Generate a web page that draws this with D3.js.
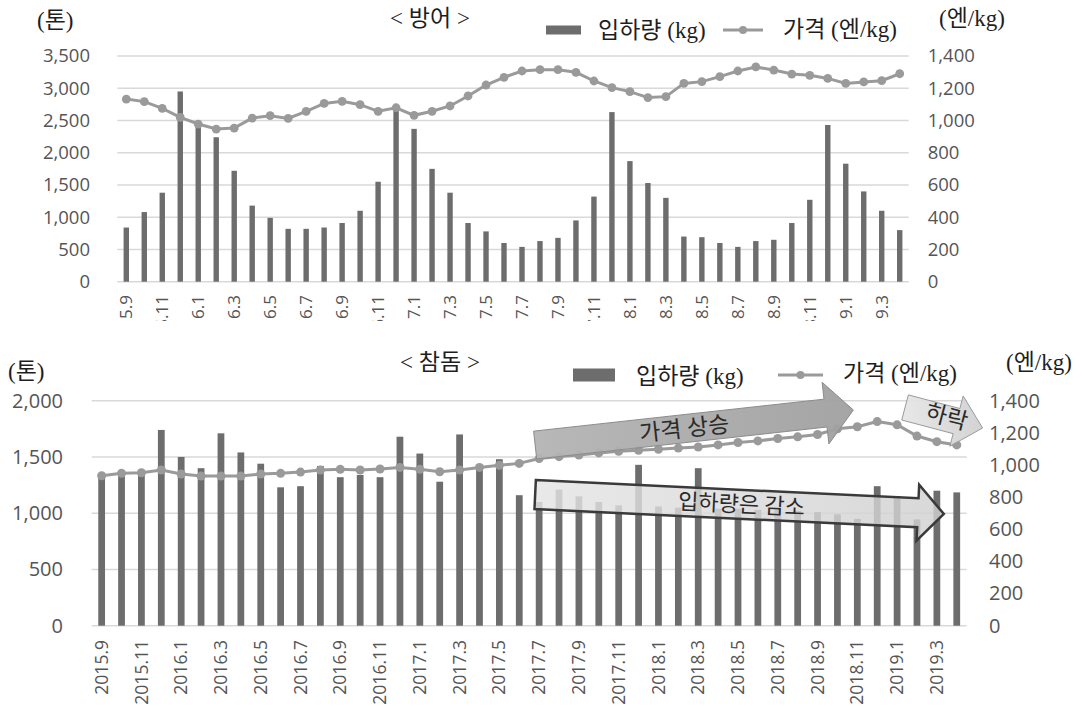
<!DOCTYPE html>
<html>
<head>
<meta charset="utf-8">
<script src="https://cdn.jsdelivr.net/npm/d3@7"></script>
<style>
  body { margin: 0; background: #fff; }
</style>
</head>
<body>
<div id="chart"></div>
<script>
// Monthly categories, 2015.9 ~ 2019.4
const months = [
  '2015.9', '2015.10', '2015.11', '2015.12',
  '2016.1', '2016.2', '2016.3', '2016.4', '2016.5', '2016.6', '2016.7', '2016.8', '2016.9', '2016.10', '2016.11', '2016.12',
  '2017.1', '2017.2', '2017.3', '2017.4', '2017.5', '2017.6', '2017.7', '2017.8', '2017.9', '2017.10', '2017.11', '2017.12',
  '2018.1', '2018.2', '2018.3', '2018.4', '2018.5', '2018.6', '2018.7', '2018.8', '2018.9', '2018.10', '2018.11', '2018.12',
  '2019.1', '2019.2', '2019.3', '2019.4'
];
// every other month gets a label
const tickMonths = months.filter((m, i) => i % 2 === 0);

// < 방어 > landing (톤) and price (엔/kg)
const banLanding = [840, 1080, 1380, 2950, 2470, 2240, 1720, 1180, 990, 820, 820, 840, 910, 1100, 1550, 2700,
  2370, 1750, 1380, 910, 780, 600, 540, 630, 680, 950, 1320, 2630, 1870, 1530, 1300, 700, 690, 600, 540, 630,
  650, 910, 1270, 2430, 1830, 1400, 1100, 800];
const banPrice = [1133, 1117, 1075, 1019, 978, 947, 953, 1015, 1030, 1013, 1057, 1106, 1119, 1098, 1057, 1079,
  1032, 1057, 1090, 1152, 1220, 1268, 1307, 1315, 1315, 1299, 1245, 1204, 1179, 1142, 1148, 1230, 1241, 1272,
  1307, 1332, 1313, 1288, 1280, 1261, 1230, 1239, 1247, 1290];

// < 참돔 > landing (톤) and price (엔/kg)
const chamLanding = [1330, 1380, 1360, 1740, 1500, 1400, 1710, 1540, 1440, 1230, 1240, 1420, 1320, 1340, 1320, 1680,
  1530, 1280, 1700, 1400, 1480, 1160, 1100, 1210, 1150, 1100, 1070, 1430, 1060, 1050, 1400, 1040, 1040, 1030,
  1030, 1020, 1010, 990, 950, 1240, 1150, 945, 1200, 1185];
const chamPrice = [933, 948, 952, 969, 944, 931, 931, 931, 944, 948, 956, 969, 973, 969, 975, 985, 973, 958, 969,
  985, 998, 1010, 1040, 1052, 1062, 1075, 1085, 1092, 1098, 1105, 1112, 1125, 1140, 1150, 1165, 1175, 1190, 1225,
  1238, 1270, 1250, 1180, 1145, 1125];

// axis ticks
const banTicks = [0, 500, 1000, 1500, 2000, 2500, 3000, 3500];
const chamTicks = [0, 500, 1000, 1500, 2000];
const priceTicks = [0, 200, 400, 600, 800, 1000, 1200, 1400];

// annotation arrows on the 참돔 panel: [month index, price] for tail and tip
const chamArrows = [
  { label: '가격 상승', tail: [21.8, 1124], tip: [37.8, 1342], hw: 14, hh: 31, hl: 28, fill: 'gradUp', stroke: '#8c8c8c', sw: 1, op: 0.95, fs: 23, shift: 4 },
  { label: '입하량은 감소', tail: [21.8, 816], tip: [42.35, 695], hw: 14.5, hh: 28, hl: 26, fill: 'gradDown', stroke: '#3a3a3a', sw: 2.5, op: 0.82, fs: 22, shift: 15 },
  { label: '하락', tail: [40.4, 1358], tip: [44.3, 1230], hw: 13, hh: 26, hl: 27, fill: 'gradFall', stroke: '#9a9a9a', sw: 1, op: 0.92, fs: 23, shift: 0 }
];

const korFont = '"Liberation Serif", "Noto Sans CJK KR", serif';
const numFont = '"Open Sans", sans-serif';

const svg = d3.select('#chart')
  .append('svg')
  .attr('width', 1089)
  .attr('height', 711);

const defs = svg.append('defs');
function grad(id, c1, c2) {
  const g = defs.append('linearGradient').attr('id', id).attr('x1', '0%').attr('x2', '100%');
  g.append('stop').attr('offset', '0%').attr('stop-color', c1);
  g.append('stop').attr('offset', '100%').attr('stop-color', c2);
}
grad('gradUp', '#b4b4b4', '#a0a0a0');
grad('gradDown', '#e4e4e4', '#d0d0d0');
grad('gradFall', '#e6e6e6', '#cfcfcf');

// Drawing one bar + line panel
function panel(o) {
  const g = svg.append('g');

  const x = d3.scaleBand()
    .domain(months)
    .range([o.x0, o.x1])
    .paddingInner(o.pad)
    .paddingOuter(o.pad / 2);
  const yL = d3.scaleLinear().domain([0, o.leftMax]).range([o.yBot, o.yTop]);
  const yR = d3.scaleLinear().domain([0, 1400]).range([o.yBot, o.yTop]);
  const cx = m => x(m) + x.bandwidth() / 2;

  // gridlines
  g.selectAll('line.grid')
    .data(o.leftTicks)
    .join('line')
    .attr('x1', o.x0).attr('x2', o.x1)
    .attr('y1', d => yL(d)).attr('y2', d => yL(d))
    .attr('stroke', '#d9d9d9')
    .attr('stroke-width', 1.5);

  // left axis
  const axL = g.append('g')
    .attr('transform', `translate(${o.leftLabelX},0)`)
    .call(d3.axisLeft(yL).tickValues(o.leftTicks).tickSize(0).tickPadding(0).tickFormat(d3.format(',')));
  axL.select('.domain').remove();
  axL.selectAll('text').attr('font-family', numFont).attr('font-size', o.fs).attr('fill', '#555');

  // right axis
  const axR = g.append('g')
    .attr('transform', `translate(${o.rightLabelX},0)`)
    .call(d3.axisRight(yR).tickValues(priceTicks).tickSize(0).tickPadding(0).tickFormat(d3.format(',')));
  axR.select('.domain').remove();
  axR.selectAll('text').attr('font-family', numFont).attr('font-size', o.fs).attr('fill', '#555');

  // bars
  g.selectAll('rect.bar')
    .data(o.landing)
    .join('rect')
    .attr('x', (d, i) => x(months[i]))
    .attr('width', x.bandwidth())
    .attr('y', d => yL(d))
    .attr('height', d => o.yBot - yL(d))
    .attr('fill', '#6d6d6d');

  // price line with markers
  const line = d3.line()
    .x((d, i) => cx(months[i]))
    .y(d => yR(d));
  g.append('path')
    .attr('d', line(o.price))
    .attr('fill', 'none')
    .attr('stroke', '#9a9a9a')
    .attr('stroke-width', 3);
  g.selectAll('circle.pt')
    .data(o.price)
    .join('circle')
    .attr('cx', (d, i) => cx(months[i]))
    .attr('cy', d => yR(d))
    .attr('r', o.r)
    .attr('fill', '#9a9a9a');

  // x labels (rotated), optionally clipped
  const wrap = g.append('g');
  if (o.clip) {
    defs.append('clipPath').attr('id', o.clip.id)
      .append('rect')
      .attr('x', 0).attr('y', o.clip.y0)
      .attr('width', 1089).attr('height', o.clip.y1 - o.clip.y0);
    wrap.attr('clip-path', `url(#${o.clip.id})`);
  }
  const axX = wrap.append('g')
    .attr('transform', `translate(0,${o.labelTop})`)
    .call(d3.axisBottom(x).tickValues(tickMonths).tickSize(0).tickPadding(0));
  axX.select('.domain').remove();
  axX.selectAll('text')
    .attr('y', 0)
    .attr('dy', '0.35em')
    .attr('transform', 'rotate(-90)')
    .attr('text-anchor', 'end')
    .attr('font-family', numFont)
    .attr('font-size', o.xfs)
    .attr('fill', '#555');

  // titles, units, legend
  const txt = (t, tx, ty, size, anchor) => g.append('text')
    .attr('x', tx).attr('y', ty)
    .attr('dy', '0.35em')
    .attr('text-anchor', anchor || 'start')
    .attr('font-family', korFont)
    .attr('font-size', size)
    .attr('fill', '#1e1e1e')
    .text(t);
  txt(o.title, o.titleX, o.titleY, 23, 'middle');
  txt('(톤)', o.tonX, o.tonY, 23);
  txt('(엔/kg)', o.yenX, o.yenY, 23);

  const lg = o.legend;
  g.append('rect')
    .attr('x', lg.sx).attr('y', lg.sy - lg.sh / 2)
    .attr('width', lg.sw).attr('height', lg.sh)
    .attr('fill', '#6d6d6d');
  txt('입하량 (kg)', lg.t1x, lg.ty, 23);
  g.append('line')
    .attr('x1', lg.lx).attr('x2', lg.lx + lg.lw)
    .attr('y1', lg.ly).attr('y2', lg.ly)
    .attr('stroke', '#9a9a9a').attr('stroke-width', 3);
  g.append('circle')
    .attr('cx', lg.lx + lg.lw / 2).attr('cy', lg.ly)
    .attr('r', 4).attr('fill', '#9a9a9a');
  txt('가격 (엔/kg)', lg.t2x, lg.ty2, 23);

  return { x, yR, g, step: x.step(), x0: o.x0 };
}

const topPanel = panel({
  x0: 117.3, x1: 908.7, yTop: 56, yBot: 281.7, pad: 0.7,
  leftMax: 3500, leftTicks: banTicks, landing: banLanding, price: banPrice,
  leftLabelX: 90, rightLabelX: 927.7, fs: 18.5, xfs: 17, r: 4.4,
  labelTop: 295, clip: { id: 'clipTop', y0: 286, y1: 321 },
  title: '< 방어 >', titleX: 430, titleY: 18, tonX: 37, tonY: 20, yenX: 939, yenY: 18,
  legend: { sx: 546, sy: 30, sw: 35, sh: 9, t1x: 598, ty: 30, lx: 723, lw: 40, ly: 30, t2x: 783, ty2: 29 }
});

const bottomPanel = panel({
  x0: 91.7, x1: 966.7, yTop: 400.7, yBot: 625.7, pad: 0.66,
  leftMax: 2000, leftTicks: chamTicks, landing: chamLanding, price: chamPrice,
  leftLabelX: 63, rightLabelX: 989, fs: 20, xfs: 17.5, r: 4.5,
  labelTop: 640, clip: null,
  title: '< 참돔 >', titleX: 440, titleY: 362, tonX: 8, tonY: 371, yenX: 1006, yenY: 362,
  legend: { sx: 573, sy: 375, sw: 42, sh: 13, t1x: 636, ty: 376, lx: 778, lw: 45, ly: 375, t2x: 843, ty2: 373 }
});

// Drawing the annotation arrows
const xAt = idx => bottomPanel.x0 + (idx + 0.5) * bottomPanel.step;
chamArrows.forEach(a => {
  const p0 = [xAt(a.tail[0]), bottomPanel.yR(a.tail[1])];
  const p1 = [xAt(a.tip[0]), bottomPanel.yR(a.tip[1])];
  const dx = p1[0] - p0[0], dy = p1[1] - p0[1];
  const len = Math.hypot(dx, dy);
  const u = [dx / len, dy / len], n = [-u[1], u[0]];
  const neck = [p1[0] - u[0] * a.hl, p1[1] - u[1] * a.hl];
  const pt = (b, s) => [b[0] + n[0] * s, b[1] + n[1] * s];
  const pts = [pt(p0, -a.hw), pt(neck, -a.hw), pt(neck, -a.hh), p1, pt(neck, a.hh), pt(neck, a.hw), pt(p0, a.hw)];
  bottomPanel.g.append('path')
    .attr('d', d3.line()(pts) + 'Z')
    .attr('fill', `url(#${a.fill})`)
    .attr('fill-opacity', a.op)
    .attr('stroke', a.stroke)
    .attr('stroke-width', a.sw)
    .attr('stroke-linejoin', 'miter');
  const ang = Math.atan2(dy, dx) * 180 / Math.PI;
  const mid = [(p0[0] + neck[0]) / 2, (p0[1] + neck[1]) / 2];
  let tcx, tcy;
  if (a.label === '하락') {
    tcx = (p0[0] + p1[0]) / 2 + 3;
    tcy = (p0[1] + p1[1]) / 2 - 1;
  } else {
    tcx = mid[0] + a.shift;
    tcy = mid[1] + a.shift * u[1] / u[0];
  }
  bottomPanel.g.append('text')
    .attr('transform', `translate(${tcx},${tcy}) rotate(${ang})`)
    .attr('text-anchor', 'middle')
    .attr('dy', '0.35em')
    .attr('font-family', korFont)
    .attr('font-size', a.fs)
    .attr('fill', '#2a2a2a')
    .text(a.label);
});
</script>
</body>
</html>
